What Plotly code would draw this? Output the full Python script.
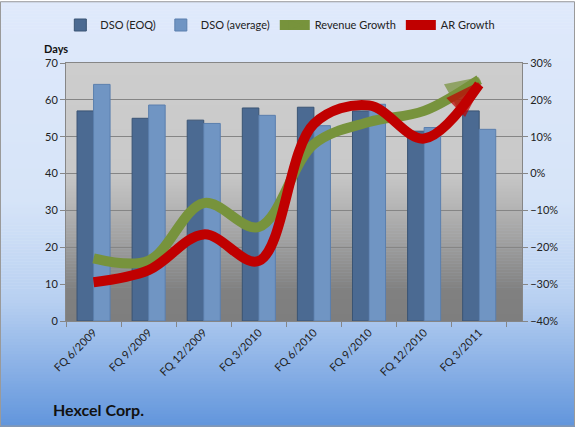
import plotly.graph_objects as go

categories = ["FQ 6/2009", "FQ 9/2009", "FQ 12/2009", "FQ 3/2010",
              "FQ 6/2010", "FQ 9/2010", "FQ 12/2010", "FQ 3/2011"]
dso_eoq = [57.0, 55.0, 54.5, 57.8, 58.0, 57.0, 51.5, 57.0]
dso_avg = [64.2, 58.6, 53.6, 55.8, 53.0, 58.8, 52.5, 52.0]
revenue_growth = [-23.0, -23.6, -8.0, -14.5, 8.0, 14.0, 17.0, 25.5]
ar_growth = [-29.5, -26.2, -16.5, -23.7, 13.5, 18.5, 9.5, 24.2]

W, H = 575, 427
L, R, T, B = 66, 53, 62, 106
pw, ph = W - L - R, H - T - B


def hex2rgb(h):
    h = h.lstrip('#')
    return tuple(int(h[i:i + 2], 16) for i in (0, 2, 4))


def grad(stops, y):
    for (y0, c0), (y1, c1) in zip(stops[:-1], stops[1:]):
        if y0 <= y <= y1:
            t = (y - y0) / (y1 - y0) if y1 > y0 else 0
            a, b = hex2rgb(c0), hex2rgb(c1)
            return 'rgb(%d,%d,%d)' % tuple(round(a[i] + (b[i] - a[i]) * t) for i in range(3))
    return stops[-1][1]


def py2paper(y):
    return (H - B - y) / ph


def px2paper(x):
    return (x - L) / pw


shapes = []
fig_stops = [(0, '#dfe9fb'), (200, '#d6e4f8'), (300, '#b8d0f1'), (427, '#6195dc')]
step = 3
for y in range(0, H, step):
    shapes.append(dict(type='rect', xref='paper', yref='paper', layer='below',
                       x0=px2paper(0), x1=px2paper(W), y0=py2paper(y + step + 0.5), y1=py2paper(y),
                       fillcolor=grad(fig_stops, y + step / 2), line=dict(width=0)))
plot_stops = [(T, '#cdcdcd'), (170, '#c9c9c9'), (215, '#b0b0b0'), (290, '#808080'), (H - B, '#7e7e7e')]
for y in range(T, H - B, step):
    y1 = min(y + step + 0.5, H - B)
    shapes.append(dict(type='rect', xref='paper', yref='paper', layer='below',
                       x0=0, x1=1, y0=py2paper(y1), y1=py2paper(y),
                       fillcolor=grad(plot_stops, y + step / 2), line=dict(width=0)))
shapes.append(dict(type='rect', xref='paper', yref='paper', layer='above',
                   x0=px2paper(0.5), x1=px2paper(W - 0.5), y0=py2paper(H - 0.5), y1=py2paper(0.5),
                   line=dict(color='#9a9a9a', width=1)))

font = 'Lato, Open Sans, sans-serif'
fig = go.Figure()
fig.add_trace(go.Bar(x=categories, y=dso_eoq, name='DSO (EOQ)',
                     marker=dict(color='#4b6a92', line=dict(color='#3a5474', width=1))))
fig.add_trace(go.Bar(x=categories, y=dso_avg, name='DSO (average)',
                     marker=dict(color='#7095c3', line=dict(color='#5b7fae', width=1))))
for name, vals, col in [('Revenue Growth', revenue_growth, '#77933c'),
                        ('AR Growth', ar_growth, '#c00000')]:
    n = len(vals)
    fig.add_trace(go.Scatter(x=categories, y=vals, yaxis='y2', mode='lines+markers', name=name,
                             line=dict(color=col, width=10, shape='spline', smoothing=1),
                             marker=dict(symbol='arrow', size=[0] * (n - 1) + [32],
                                         angleref='previous', color=col,
                                         line=dict(color=col, width=5))))

axis_font = dict(family=font, size=11, color='#222222')
fig.update_layout(
    width=W, height=H,
    margin=dict(l=L, r=R, t=T, b=B),
    paper_bgcolor='rgba(0,0,0,0)', plot_bgcolor='rgba(0,0,0,0)',
    barmode='group', bargap=0.4, bargroupgap=0.0,
    font=dict(family=font, size=11, color='#222222'),
    shapes=shapes,
    showlegend=True,
    legend=dict(orientation='h', x=0.47, xanchor='center', y=py2paper(25), yanchor='middle',
                font=dict(family=font, size=11, color='#222222'), bgcolor='rgba(0,0,0,0)',
                itemwidth=30, traceorder='normal'),
    xaxis=dict(type='category', tickangle=-45, tickson='boundaries', ticks='outside', ticklen=5,
               tickcolor='#868686', showline=True, linecolor='#868686', mirror=True,
               showgrid=False, tickfont=axis_font),
    yaxis=dict(range=[0, 70], dtick=10, showgrid=True, gridcolor='#858585', gridwidth=1,
               ticks='outside', ticklen=5, tickcolor='#868686', showline=True, linecolor='#868686',
               mirror=True, zeroline=False, tickfont=axis_font),
    yaxis2=dict(range=[-40, 30], dtick=10, ticksuffix='%', overlaying='y', side='right',
                showgrid=False, zeroline=False, ticks='outside', ticklen=5, tickcolor='#868686',
                showline=False, tickfont=axis_font),
    annotations=[
        dict(text='<b>Days</b>', xref='paper', yref='paper', x=px2paper(42), y=py2paper(47),
             xanchor='left', yanchor='middle', showarrow=False,
             font=dict(family=font, size=11, color='#111111')),
        dict(text='<b>Hexcel Corp.</b>', xref='paper', yref='paper', x=px2paper(51), y=py2paper(410),
             xanchor='left', yanchor='middle', showarrow=False,
             font=dict(family=font, size=16, color='#111111')),
    ],
)
fig.write_html('out.html')
